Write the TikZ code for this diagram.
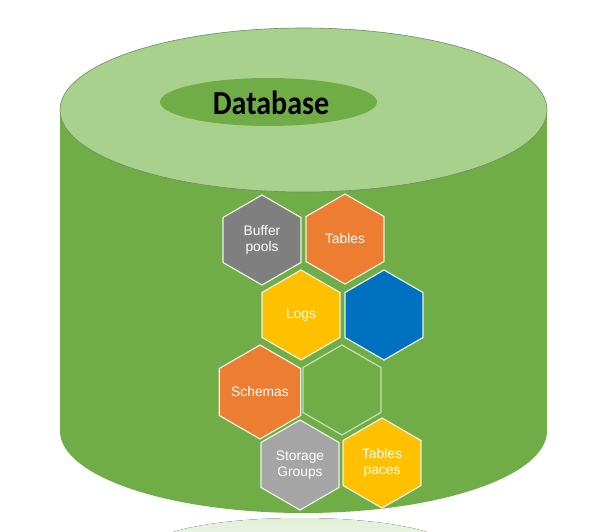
\documentclass[tikz,border=0pt]{standalone}
\usepackage{fontspec}
\setmainfont{Liberation Sans}
\newfontfamily\dbfont{Carlito}
\usetikzlibrary{shapes.geometric}
\definecolor{dbgreen}{HTML}{70AD47}
\definecolor{dblight}{HTML}{A9D18E}
\definecolor{dbedge}{HTML}{6E8C5E}
\definecolor{hexgray}{HTML}{7F7F7F}
\definecolor{hexsilver}{HTML}{A5A5A5}
\definecolor{hexorange}{HTML}{ED7D31}
\definecolor{hexyellow}{HTML}{FFC000}
\definecolor{hexblue}{HTML}{0070C0}
\definecolor{hexline}{HTML}{C5E0B4}
\tikzset{
  hexa/.style={regular polygon, regular polygon sides=6, shape border rotate=30,
    minimum size=90pt, inner sep=0pt, draw=white!85!dbgreen, line width=1.2pt,
    text=white, align=center, font=\fontsize{13.8}{16.5}\selectfont},
  hexempty/.style={hexa, fill=dbgreen, draw=hexline}
}
\begin{document}
\begin{tikzpicture}[x=1pt, y=-1pt]
  \useasboundingbox (0,0) rectangle (589,532);
  % reflection under the drum
  \fill[top color=dblight!35, bottom color=white] (300,548) ellipse (150 and 30);
  \fill[white] (0,0) rectangle (589,517);
  % drum
  \fill[dbgreen] (60,110) rectangle (547,431);
  \fill[dbgreen] (303.5,431) ellipse (243.5 and 82);
  \draw[dbedge, fill=dblight, line width=0.6pt] (303.5,110) ellipse (243.5 and 82);
  \fill[dbgreen] (268.5,102) ellipse (108.5 and 24);
  \node (title) at (271,103) {\scalebox{1}[1.12]{\dbfont\bfseries\fontsize{30}{34}\selectfont Database}};
  % hexagons
  \node[hexa, fill=hexgray] (bufpools) at (262,240) {Buffer\\pools};
  \node[hexa, fill=hexorange] (tables) at (345,239) {Tables};
  \node[hexa, fill=hexyellow] (logs) at (301,315) {Logs};
  \node[hexa, fill=hexblue] (blue) at (384,315) {};
  \node[hexa, fill=hexorange] (schemas) at (260,392) {Schemas};
  \node[hexempty] (blank) at (342,390) {};
  \node[hexa, fill=hexsilver] (storage) at (300,465) {Storage\\Groups};
  \node[hexa, fill=hexyellow] (tspaces) at (382,463) {Tables\\paces};
\end{tikzpicture}
\end{document}
